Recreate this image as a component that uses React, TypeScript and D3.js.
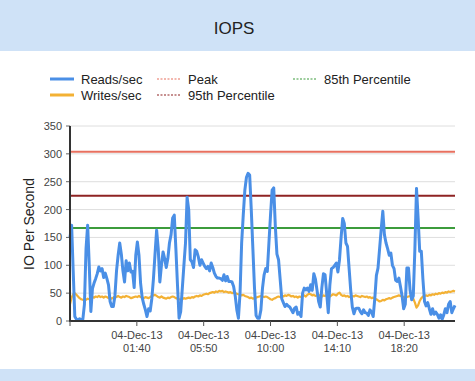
import React, { useEffect, useRef } from "react";
import * as d3 from "d3";

const title = "IOPS";
const yLabel = "IO Per Second";
const startTime = new Date(2013, 11, 3, 21, 30);
const endTime = new Date(2013, 11, 4, 21, 30);
const intervalMinutes = 6;
const tickTimes = [
  new Date(2013, 11, 3, 21, 30),
  new Date(2013, 11, 4, 1, 40),
  new Date(2013, 11, 4, 5, 50),
  new Date(2013, 11, 4, 10, 0),
  new Date(2013, 11, 4, 14, 10),
  new Date(2013, 11, 4, 18, 20),
];
const yTicks = [0, 50, 100, 150, 200, 250, 300, 350];

const reads = [
  150, 172, 89, 8, 3, 2, 4, 2, 3, 30, 130, 172, 100, 17, 58, 68, 76, 85, 97, 90,
  94, 78, 86, 76, 65, 35, 26, 26, 45, 90, 118, 140, 120, 90, 70, 108, 90, 104, 88, 89,
  60, 118, 142, 118, 68, 42, 30, 20, 8, 22, 18, 40, 75, 120, 163, 130, 70, 100, 124, 112,
  96, 112, 140, 155, 185, 190, 130, 65, 5, 17, 58, 100, 140, 222, 200, 110, 106, 96, 128, 125,
  115, 100, 110, 104, 98, 94, 98, 90, 104, 96, 86, 80, 77, 77, 76, 73, 83, 72, 80, 71,
  71, 70, 62, 45, 20, 5, 50, 140, 190, 235, 258, 265, 262, 200, 130, 60, 10, 5, 5, 20,
  59, 83, 94, 89, 140, 190, 235, 239, 170, 120, 110, 75, 40, 33, 26, 30, 27, 25, 20, 15,
  23, 25, 12, 15, 8, 50, 59, 56, 59, 53, 65, 55, 85, 75, 55, 35, 25, 60, 85, 83,
  50, 15, 65, 94, 96, 100, 104, 88, 110, 150, 184, 175, 140, 134, 94, 55, 25, 13, 22, 23,
  23, 17, 13, 20, 15, 14, 10, 20, 16, 8, 40, 82, 95, 130, 165, 197, 155, 140, 130, 118,
  122, 100, 94, 73, 71, 77, 62, 45, 22, 30, 95, 95, 55, 38, 45, 130, 238, 185, 125, 125,
  75, 35, 27, 33, 22, 12, 22, 12, 16, 12, 5, 11, 3, 11, 22, 15, 30, 35, 15, 22,
  28,
];

const writes = [
  30, 42, 48, 50, 47, 44, 41, 39, 38, 37, 38, 40, 39, 41, 43, 42, 44, 43, 45, 43,
  44, 42, 44, 43, 41, 42, 40, 42, 44, 43, 45, 43, 42, 44, 43, 45, 44, 43, 41, 42,
  43, 44, 43, 45, 43, 42, 41, 43, 42, 41, 43, 45, 46, 47, 45, 43, 42, 44, 42, 41,
  40, 42, 41, 43, 44, 43, 41, 40, 39, 38, 39, 41, 40, 41, 42, 41, 43, 42, 44, 45,
  44, 46, 45, 47, 48, 49, 48, 50, 51, 52, 51, 53, 52, 54, 53, 54, 52, 53, 52, 51,
  52, 50, 51, 50, 49, 48, 47, 46, 47, 45, 44, 43, 41, 42, 40, 41, 42, 43, 44, 45,
  44, 43, 44, 43, 41, 39, 38, 40, 41, 43, 44, 43, 45, 44, 46, 45, 47, 46, 44, 45,
  43, 44, 42, 44, 43, 45, 46, 44, 47, 49, 48, 46, 47, 45, 46, 47, 45, 44, 46, 45,
  47, 46, 44, 46, 48, 47, 46, 49, 51, 47, 45, 46, 44, 45, 43, 44, 45, 44, 46, 45,
  44, 43, 45, 44, 43, 44, 42, 43, 41, 42, 40, 39, 37, 35, 36, 38, 37, 39, 40, 41,
  40, 42, 43, 44, 45, 46, 45, 44, 43, 41, 43, 44, 45, 43, 40, 33, 24, 28, 36, 41,
  44, 45, 46, 45, 47, 46, 48, 47, 49, 48, 50, 49, 51, 50, 52, 51, 53, 52, 53, 54,
  53,
];

const refLines = [
  { name: "Peak", value: 304, color: "#e8705f" },
  { name: "95th Percentile", value: 225, color: "#8e2323" },
  { name: "85th Percentile", value: 167, color: "#3c9c3c" },
];

const READ_COLOR = "#4a8fe6";
const WRITE_COLOR = "#f3b134";

export default function App() {
  const ref = useRef<SVGSVGElement | null>(null);

  useEffect(() => {
    const svg = d3.select(ref.current);
    svg.selectAll("*").remove();
    const W = 475, H = 381;
    const font = "'Liberation Sans', Arial, sans-serif";

    svg.append("rect").attr("width", W).attr("height", H).attr("fill", "#fff");
    svg.append("rect").attr("x", 0).attr("y", 0).attr("width", W).attr("height", 51).attr("fill", "#cfe2f7");
    svg.append("rect").attr("x", 0).attr("y", 369).attr("width", W).attr("height", 12).attr("fill", "#cfe2f7");
    svg.append("text").attr("x", 234).attr("y", 34).attr("text-anchor", "middle")
      .attr("font-family", font).attr("font-size", 17).attr("fill", "#222").text(title);

    const x = d3.scaleTime().domain([startTime, endTime]).range([70, 455]);
    const y = d3.scaleLinear().domain([0, 350]).range([321, 126]);

    svg.append("g").selectAll("line").data(yTicks.filter((d) => d > 0)).join("line")
      .attr("x1", 70).attr("x2", 455).attr("y1", (d) => y(d)).attr("y2", (d) => y(d))
      .attr("stroke", "#dedede").attr("stroke-width", 1);

    const yg = svg.append("g");
    yg.selectAll("text").data(yTicks).join("text")
      .attr("x", 62).attr("y", (d) => y(d) + 4).attr("text-anchor", "end")
      .attr("font-family", font).attr("font-size", 11).attr("fill", "#444").text((d) => d);
    yg.selectAll("line").data(yTicks).join("line")
      .attr("x1", 66).attr("x2", 70).attr("y1", (d) => y(d)).attr("y2", (d) => y(d))
      .attr("stroke", "#666").attr("stroke-width", 1);

    svg.append("text").attr("transform", "translate(34,224) rotate(-90)").attr("text-anchor", "middle")
      .attr("font-family", font).attr("font-size", 14).attr("fill", "#222").text(yLabel);

    svg.append("g").selectAll("line").data(refLines).join("line")
      .attr("x1", 70).attr("x2", 455).attr("y1", (d) => y(d.value)).attr("y2", (d) => y(d.value))
      .attr("stroke", (d) => d.color).attr("stroke-width", 2);

    const t = (i: number) => d3.timeMinute.offset(startTime, i * intervalMinutes);
    const line = d3.line<number>().x((_, i) => x(t(i))).y((d) => y(d));

    svg.append("path").attr("d", line(writes)).attr("fill", "none")
      .attr("stroke", WRITE_COLOR).attr("stroke-width", 2.2).attr("stroke-linejoin", "round");
    svg.append("path").attr("d", line(reads)).attr("fill", "none")
      .attr("stroke", READ_COLOR).attr("stroke-width", 3).attr("stroke-linejoin", "round");

    svg.append("line").attr("x1", 70).attr("x2", 70).attr("y1", 126).attr("y2", 322)
      .attr("stroke", "#333").attr("stroke-width", 2);
    svg.append("line").attr("x1", 69).attr("x2", 455).attr("y1", 321).attr("y2", 321)
      .attr("stroke", "#333").attr("stroke-width", 2);

    const fmtD = d3.timeFormat("%d-%b-%y");
    const fmtT = d3.timeFormat("%H:%M");
    const xg = svg.append("g");
    xg.selectAll("line").data(tickTimes).join("line")
      .attr("x1", (d) => x(d)).attr("x2", (d) => x(d)).attr("y1", 321).attr("y2", 326)
      .attr("stroke", "#555").attr("stroke-width", 1);
    const labels = xg.selectAll("g").data(tickTimes.slice(1)).join("g");
    labels.append("text").attr("x", (d) => x(d)).attr("y", 339).attr("text-anchor", "middle")
      .attr("font-family", font).attr("font-size", 11).attr("fill", "#444").text((d) => fmtD(d));
    labels.append("text").attr("x", (d) => x(d)).attr("y", 352).attr("text-anchor", "middle")
      .attr("font-family", font).attr("font-size", 11).attr("fill", "#444").text((d) => fmtT(d));

    const legend = [
      { name: "Reads/sec", color: READ_COLOR, dash: null, w: 3, lx: 50, ly: 79 },
      { name: "Writes/sec", color: WRITE_COLOR, dash: null, w: 3, lx: 50, ly: 95 },
      { name: refLines[0].name, color: refLines[0].color, dash: "2,1.5", w: 1.2, lx: 157, ly: 79 },
      { name: refLines[1].name, color: refLines[1].color, dash: "2,1.5", w: 1.2, lx: 157, ly: 95 },
      { name: refLines[2].name, color: refLines[2].color, dash: "2,1.5", w: 1.2, lx: 293, ly: 79 },
    ];
    const lg = svg.append("g").selectAll("g").data(legend).join("g");
    lg.append("line").attr("x1", (d) => d.lx).attr("x2", (d) => d.lx + 24)
      .attr("y1", (d) => d.ly).attr("y2", (d) => d.ly)
      .attr("stroke", (d) => d.color).attr("stroke-width", (d) => d.w)
      .attr("stroke-dasharray", (d) => d.dash);
    lg.append("text").attr("x", (d) => d.lx + 31).attr("y", (d) => d.ly + 4.5)
      .attr("font-family", font).attr("font-size", 13).attr("fill", "#222").text((d) => d.name);
  }, []);

  return (
    <svg ref={ref} width={475} height={381}
      style={{ position: "absolute", left: 0, top: 0, display: "block" }} />
  );
}
